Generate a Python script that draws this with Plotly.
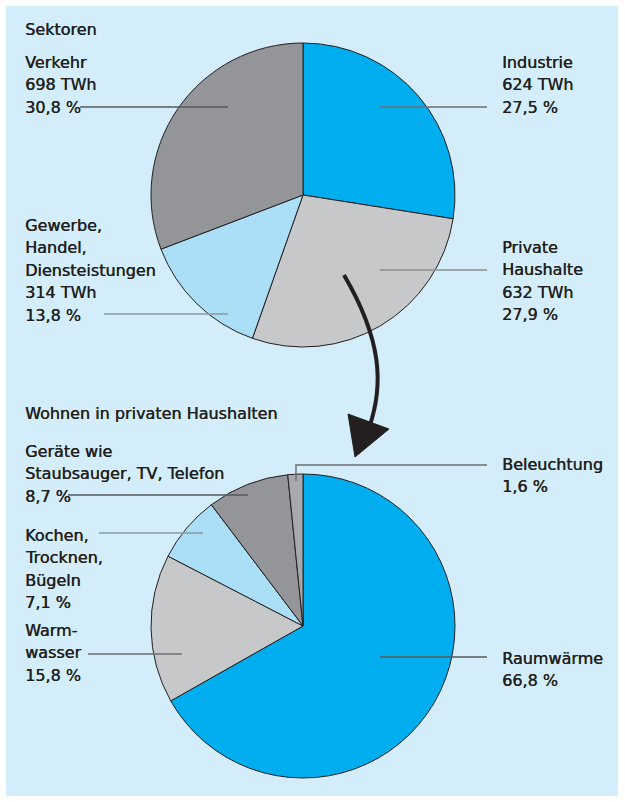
import plotly.graph_objects as go

W, H = 625, 802

# ---- data ----
sector_labels = ["Industrie", "Private Haushalte", "Gewerbe, Handel, Diensteistungen", "Verkehr"]
sector_twh = [624, 632, 314, 698]
sector_pct = [27.5, 27.9, 13.8, 30.8]
sector_colors = ["#00aeef", "#c7c8ca", "#abdff8", "#939598"]

home_labels = ["Raumwärme", "Warmwasser", "Kochen, Trocknen, Bügeln", "Geräte wie Staubsauger, TV, Telefon", "Beleuchtung"]
home_pct = [66.8, 15.8, 7.1, 8.7, 1.6]
home_colors = ["#00aeef", "#c7c8ca", "#abdff8", "#939598", "#a7a9ac"]

BG = "#d3eefa"
INK = "#231f20"
FONT = "DejaVu Sans"
FS = 16


def dom(cx, cy, r):
    return dict(x=[(cx - r) / W, (cx + r) / W], y=[1 - (cy + r) / H, 1 - (cy - r) / H])


fig = go.Figure()
fig.add_trace(go.Pie(
    labels=sector_labels, values=sector_pct, sort=False, direction="clockwise", rotation=0,
    marker=dict(colors=sector_colors, line=dict(color=INK, width=1)),
    textinfo="none", hoverinfo="label+value", showlegend=False,
    domain=dom(303, 195, 152),
))
fig.add_trace(go.Pie(
    labels=home_labels, values=home_pct, sort=False, direction="clockwise", rotation=0,
    marker=dict(colors=home_colors, line=dict(color=INK, width=1)),
    textinfo="none", hoverinfo="label+value", showlegend=False,
    domain=dom(303, 626, 152),
))


def fmt(v):
    return f"{v:.1f}".replace(".", ",") + " %"


annos = []


def txt(x, y, s):
    annos.append(dict(x=x, y=y, xref="x", yref="y", text=s, showarrow=False,
                      xanchor="left", yanchor="middle",
                      font=dict(family=FONT, size=FS, color=INK,
                                shadow="0.4px 0 0 #231f20")))


LH = 22.5
txt(23, 29, "Sektoren")
# Verkehr
for i, s in enumerate(["Verkehr", f"{sector_twh[3]} TWh", fmt(sector_pct[3])]):
    txt(23, 62 + i * LH, s)
# Industrie
for i, s in enumerate(["Industrie", f"{sector_twh[0]} TWh", fmt(sector_pct[0])]):
    txt(500, 62 + i * LH, s)
# Gewerbe
for i, s in enumerate(["Gewerbe,", "Handel,", "Diensteistungen", f"{sector_twh[2]} TWh", fmt(sector_pct[2])]):
    txt(23, 225 + i * LH, s)
# Private
for i, s in enumerate(["Private", "Haushalte", f"{sector_twh[1]} TWh", fmt(sector_pct[1])]):
    txt(500, 247 + i * LH, s)

txt(23, 413, "Wohnen in privaten Haushalten")
for i, s in enumerate(["Geräte wie", "Staubsauger, TV, Telefon", fmt(home_pct[3])]):
    txt(23, 451 + i * LH, s)
for i, s in enumerate(["Kochen,", "Trocknen,", "Bügeln", fmt(home_pct[2])]):
    txt(23, 535 + i * LH, s)
for i, s in enumerate(["Warm-", "wasser", fmt(home_pct[1])]):
    txt(23, 630 + i * LH, s)
for i, s in enumerate(["Raumwärme", fmt(home_pct[0])]):
    txt(500, 658 + i * LH, s)
for i, s in enumerate(["Beleuchtung", fmt(home_pct[4])]):
    txt(500, 464 + i * LH, s)

shapes = [
    dict(type="rect", xref="x", yref="y", x0=6, x1=618, y0=6, y1=796,
         fillcolor=BG, line=dict(width=0), layer="below"),
]


def lead(x0, y0, x1, y1, color="#6d6e71"):
    shapes.append(dict(type="line", xref="x", yref="y", x0=x0, y0=y0, x1=x1, y1=y1,
                       line=dict(color=color, width=1.4), layer="above"))


lead(80, 107, 228, 107, "#58595b")
lead(380, 107, 487, 107)
lead(104, 314, 228, 314, "#8a98a2")
lead(380, 270, 487, 270, "#8c8e90")
lead(68, 495, 248, 495, "#58595b")
lead(99, 533, 203, 533, "#8a98a2")
lead(88, 654, 182, 654, "#6d6e71")
lead(380, 657, 487, 657, "#58595b")
shapes.append(dict(type="path", xref="x", yref="y", path="M 487,465 L 296,465 L 296,481",
                   line=dict(color="#6d6e71", width=1.4), layer="above"))

# arrow
shapes.append(dict(type="path", xref="x", yref="y",
                   path="M 344,275 C 382,340 384,385 369,428",
                   line=dict(color=INK, width=4), layer="above"))
shapes.append(dict(type="path", xref="x", yref="y",
                   path="M 348,414 L 389,429 L 355,457 Z",
                   fillcolor=INK, line=dict(color=INK, width=1), layer="above"))

fig.update_layout(
    width=W, height=H, margin=dict(l=0, r=0, t=0, b=0),
    paper_bgcolor="white", plot_bgcolor="rgba(0,0,0,0)",
    xaxis=dict(range=[0, W], visible=False, domain=[0, 1], fixedrange=True),
    yaxis=dict(range=[H, 0], visible=False, domain=[0, 1], fixedrange=True),
    shapes=shapes, annotations=annos, showlegend=False,
)

fig.write_html("out.html")
